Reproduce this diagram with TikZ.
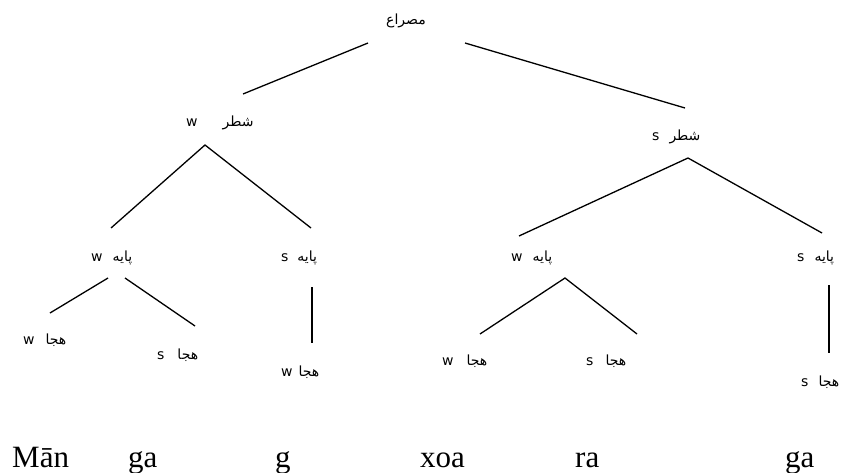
\documentclass[tikz,border=0pt]{standalone}
\usepackage{fontspec}
\setmainfont{Liberation Serif}
\newfontfamily\arabicfont[Script=Arabic]{DejaVu Sans}
\newfontfamily\latinsans{DejaVu Sans}
\TeXXeTstate=1
\newcommand{\lbl}[3]{{\latinsans\fontsize{14}{16}\selectfont #1}\hspace{#2pt}{\arabicfont\fontsize{14}{16}\selectfont\beginR #3\endR}}
\tikzset{
  lab/.style={anchor=west,inner sep=0pt},
  word/.style={anchor=base west,inner sep=0pt,font=\fontsize{31}{36}\selectfont},
  edge/.style={line width=1.3pt}
}
\begin{document}
\begin{tikzpicture}[x=1pt,y=-1pt]
      \useasboundingbox (0,0) rectangle (848,473);
      \draw
        (406,21) node[inner sep=0pt] (misra){\arabicfont\fontsize{14}{16}\selectfont\beginR مصراع\endR}
        (186,123) node[lab] (shatrL){\lbl{w}{25}{شطر}}
        (652,137) node[lab] (shatrR){\lbl{s}{10}{شطر}}
        (91,258) node[lab] (payaLL){\lbl{w}{10}{پایه}}
        (281,258) node[lab] (payaLR){\lbl{s}{9}{پایه}}
        (511,258) node[lab] (payaRL){\lbl{w}{10}{پایه}}
        (797,258) node[lab] (payaRR){\lbl{s}{10}{پایه}}
        (23,340) node[lab] (hijaA){\lbl{w}{11}{هجا}}
        (157,355) node[lab] (hijaB){\lbl{s}{13}{هجا}}
        (281,372) node[lab] (hijaC){\lbl{w}{6}{هجا}}
        (442,361) node[lab] (hijaD){\lbl{w}{13}{هجا}}
        (586,361) node[lab] (hijaE){\lbl{s}{12}{هجا}}
        (801,382) node[lab] (hijaF){\lbl{s}{10}{هجا}};
      \path
        (368,43) coordinate (r1) (243,94) coordinate (r2)
        (465,43) coordinate (r3) (685,108) coordinate (r4)
        (205,145) coordinate (a0) (111,228) coordinate (a1) (311,228) coordinate (a2)
        (688,158) coordinate (b0) (519,236) coordinate (b1) (822,233) coordinate (b2)
        (108,278) coordinate (c0) (50,313) coordinate (c1)
        (125,278) coordinate (c2) (195,326) coordinate (c3)
        (312,287) coordinate (v1) (312,343) coordinate (v2)
        (565,278) coordinate (d0) (480,334) coordinate (d1) (637,334) coordinate (d2)
        (829,285) coordinate (v3) (829,353) coordinate (v4);
      \begin{scope}[edge]
        \draw (r1) to (r2);
        \draw (r3) to (r4);
        \draw (a1) to (a0) to (a2);
        \draw (b1) to (b0) to (b2);
        \draw (c0) to (c1);
        \draw (c2) to (c3);
        \draw (v1) to (v2);
        \draw (d1) to (d0) to (d2);
        \draw (v3) to (v4);
      \end{scope}
      \draw
        (12,467) node[word] (w1){Mān}
        (128,467) node[word] (w2){ga}
        (275,467) node[word] (w3){g}
        (420,467) node[word] (w4){xoa}
        (575,467) node[word] (w5){ra}
        (785,467) node[word] (w6){ga};
    \end{tikzpicture}
\end{document}
